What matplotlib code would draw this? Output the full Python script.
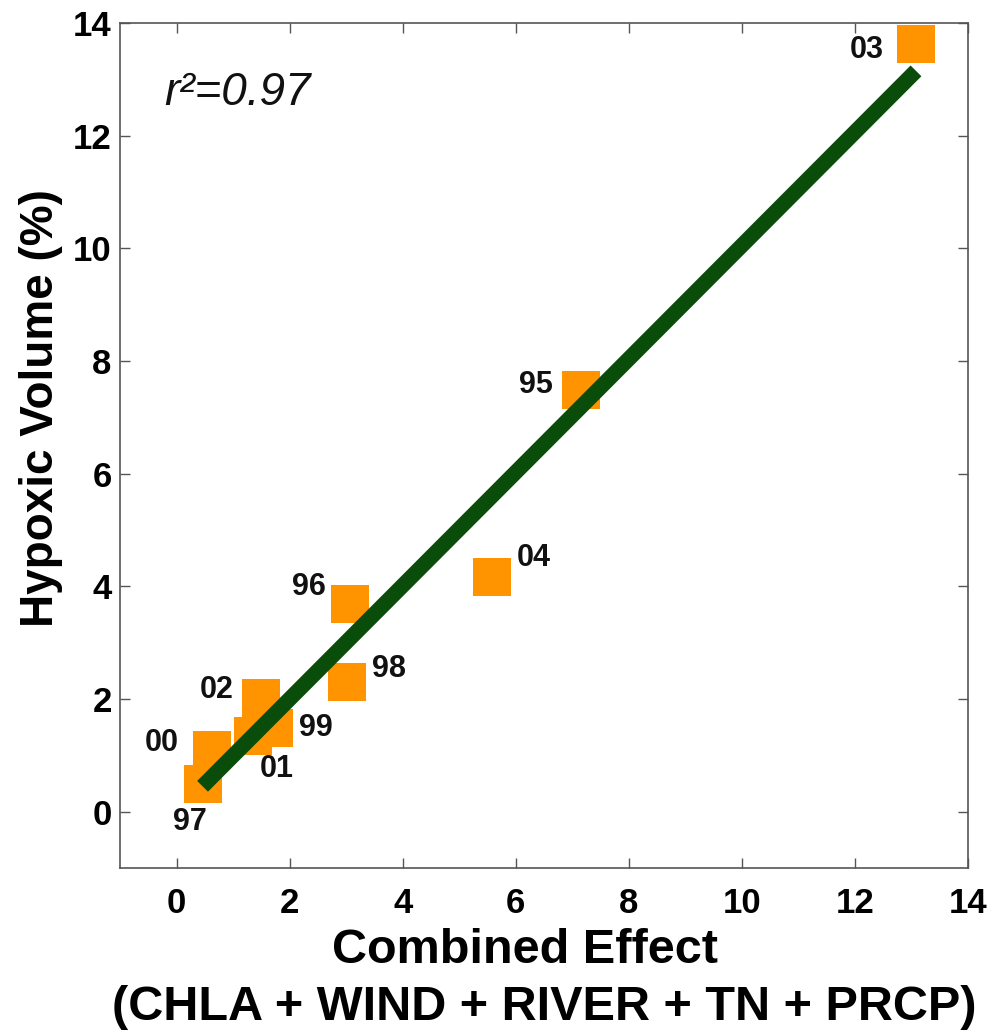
import matplotlib
matplotlib.use("Agg")
import matplotlib.pyplot as plt

# ---- data ----
years = ['95', '96', '97', '98', '99', '00', '01', '02', '03', '04']
combined_effect = [7.15, 3.07, 0.46, 3.02, 1.73, 0.62, 1.36, 1.50, 13.08, 5.58]
hypoxic_volume = [7.48, 3.68, 0.50, 2.31, 1.48, 1.10, 1.35, 2.01, 13.62, 4.16]
fit_x = [0.46, 13.08]
fit_y = [0.45, 13.15]
r2_text = 'r\u00b2=0.97'
xticks = [0, 2, 4, 6, 8, 10, 12, 14]
yticks = [0, 2, 4, 6, 8, 10, 12, 14]
xlabel_line1 = 'Combined Effect'
xlabel_line2 = '(CHLA + WIND + RIVER + TN + PRCP)'
ylabel = 'Hypoxic Volume (%)'

# label offsets in pixels (dx, dy) relative to marker centre
label_offsets = {
    '95': (-45, 5), '96': (-41, 17), '97': (-13, -39), '98': (42, 13),
    '99': (42, 0), '00': (-50, 7), '01': (23, -33), '02': (-45, 8),
    '03': (-49, -6), '04': (42, 19),
}

plt.rcParams['font.family'] = ['Liberation Sans', 'DejaVu Sans']

fig = plt.figure(figsize=(9.95, 10.33), dpi=100)
ax = fig.add_axes([120 / 995, 1 - 868 / 1033, 848 / 995, 845 / 1033])

ax.plot(combined_effect, hypoxic_volume, linestyle='none', marker='s',
        markersize=27.5, markerfacecolor='#ff9400', markeredgewidth=0,
        zorder=2)
ax.plot(fit_x, fit_y, color='#0a4d0a', linewidth=11, solid_capstyle='butt',
        zorder=3)

for yr, xv, yv in zip(years, combined_effect, hypoxic_volume):
    dx, dy = label_offsets[yr]
    ax.annotate(yr, (xv, yv), xytext=(dx, dy), textcoords='offset pixels',
                ha='center', va='center', fontsize=22, fontweight='bold',
                color='#111111', zorder=4)

ax.text(-0.21, 12.76, r2_text, ha='left', va='center', fontsize=33,
        fontstyle='italic', color='#111111')

ax.set_xlim(-1, 14)
ax.set_ylim(-1, 14)
ax.set_xticks(xticks)
ax.set_yticks(yticks)
ax.tick_params(axis='both', direction='in', length=7, width=1,
               color='#555555', top=True, right=True, labelsize=25)
ax.tick_params(axis='x', pad=14)
ax.tick_params(axis='y', pad=6)
for lab in ax.get_xticklabels() + ax.get_yticklabels():
    lab.set_fontweight('bold')
for sp in ax.spines.values():
    sp.set_color('#555555')
    sp.set_linewidth(1.2)

ax.set_xlabel(xlabel_line1, fontsize=35, fontweight='bold', va='top')
ax.xaxis.set_label_coords(0.4776, -0.071)
ax.text(0.5, -0.138, xlabel_line2, transform=ax.transAxes, ha='center',
        va='top', fontsize=35, fontweight='bold')
ax.set_ylabel(ylabel, fontsize=33, fontweight='bold')
ax.yaxis.set_label_coords(-0.067, 0.544)

fig.savefig('out.png', dpi=100)
